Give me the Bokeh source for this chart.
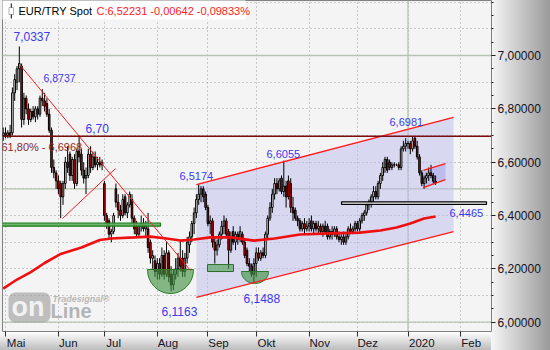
import numpy as np
from bokeh.plotting import figure
from bokeh.models import (Range1d, FixedTicker, CustomJSTickFormatter, Span, Label,
                          BoxAnnotation, ColumnDataSource)
from bokeh.embed import file_html
from bokeh.resources import INLINE

# ---------------- data (daily bars, index 0 = 1 May 2019) ----------------
bar_index = list(range(-1, 188))
opens = [
    6.70, 6.71, 6.70, 6.71, 6.71, 6.86, 6.90, 6.95, 6.96, 6.76,
    6.84, 6.80, 6.76, 6.79, 6.77, 6.80, 6.78, 6.84, 6.83, 6.82,
    6.78, 6.72, 6.58, 6.56, 6.53, 6.52, 6.47, 6.52, 6.60, 6.63,
    6.55, 6.61, 6.52, 6.64, 6.63, 6.57, 6.54, 6.55, 6.63, 6.58,
    6.62, 6.59, 6.60, 6.59, 6.52, 6.40, 6.38, 6.33, 6.34, 6.50,
    6.45, 6.42, 6.40, 6.47, 6.41, 6.44, 6.46, 6.39, 6.36, 6.33,
    6.36, 6.37, 6.35, 6.35, 6.30, 6.24, 6.23, 6.19, 6.22, 6.18,
    6.25, 6.18, 6.26, 6.18, 6.14, 6.18, 6.20, 6.24, 6.24, 6.19,
    6.24, 6.29, 6.32, 6.37, 6.41, 6.46, 6.48, 6.50, 6.48, 6.43,
    6.37, 6.38, 6.30, 6.27, 6.29, 6.33, 6.36, 6.38, 6.34, 6.27,
    6.34, 6.30, 6.33, 6.31, 6.33, 6.30, 6.27, 6.22, 6.21, 6.18,
    6.22, 6.26, 6.24, 6.26, 6.25, 6.33, 6.39, 6.43, 6.48, 6.52,
    6.50, 6.54, 6.49, 6.51, 6.53, 6.52, 6.43, 6.42, 6.39, 6.38,
    6.35, 6.37, 6.35, 6.36, 6.38, 6.35, 6.37, 6.35, 6.36, 6.34,
    6.36, 6.36, 6.32, 6.34, 6.33, 6.35, 6.32, 6.31, 6.32, 6.30,
    6.32, 6.35, 6.34, 6.35, 6.37, 6.35, 6.38, 6.40, 6.41, 6.44,
    6.45, 6.47, 6.49, 6.47, 6.52, 6.55, 6.58, 6.61, 6.60, 6.58,
    6.59, 6.59, 6.59, 6.58, 6.65, 6.66, 6.67, 6.67, 6.65, 6.69,
    6.66, 6.62, 6.56, 6.52, 6.54, 6.55, 6.56, 6.55, 6.5287,
]
highs = [
    6.73, 6.73, 6.72, 6.74, 6.88, 6.93, 6.96, 7.034, 6.97, 6.86,
    6.85, 6.82, 6.80, 6.81, 6.81, 6.81, 6.85, 6.874, 6.86, 6.84,
    6.80, 6.73, 6.61, 6.57, 6.55, 6.53, 6.53, 6.62, 6.66, 6.64,
    6.62, 6.63, 6.65, 6.70, 6.65, 6.60, 6.58, 6.65, 6.66, 6.64,
    6.64, 6.62, 6.62, 6.61, 6.53, 6.41, 6.39, 6.35, 6.41, 6.52,
    6.48, 6.44, 6.48, 6.48, 6.45, 6.49, 6.48, 6.40, 6.38, 6.37,
    6.40, 6.39, 6.38, 6.41, 6.31, 6.27, 6.25, 6.24, 6.24, 6.28,
    6.27, 6.30, 6.27, 6.21, 6.20, 6.24, 6.26, 6.31, 6.27, 6.26,
    6.32, 6.34, 6.38, 6.43, 6.48, 6.517, 6.51, 6.51, 6.49, 6.44,
    6.40, 6.39, 6.32, 6.31, 6.34, 6.38, 6.40, 6.39, 6.35, 6.34,
    6.36, 6.34, 6.34, 6.36, 6.34, 6.31, 6.28, 6.24, 6.22, 6.24,
    6.28, 6.28, 6.27, 6.28, 6.34, 6.40, 6.45, 6.50, 6.54, 6.54,
    6.54, 6.55, 6.606, 6.53, 6.55, 6.54, 6.47, 6.43, 6.40, 6.39,
    6.38, 6.39, 6.38, 6.39, 6.40, 6.38, 6.38, 6.38, 6.37, 6.37,
    6.38, 6.37, 6.35, 6.36, 6.36, 6.36, 6.34, 6.33, 6.34, 6.33,
    6.36, 6.37, 6.36, 6.38, 6.38, 6.39, 6.41, 6.42, 6.45, 6.46,
    6.48, 6.51, 6.51, 6.53, 6.56, 6.60, 6.62, 6.62, 6.61, 6.60,
    6.60, 6.595, 6.60, 6.66, 6.68, 6.69, 6.68, 6.68, 6.698, 6.695,
    6.68, 6.63, 6.57, 6.55, 6.56, 6.58, 6.59, 6.56, 6.55,
]
lows = [
    6.68, 6.69, 6.69, 6.69, 6.70, 6.83, 6.87, 6.90, 6.73, 6.74,
    6.78, 6.74, 6.75, 6.76, 6.75, 6.76, 6.77, 6.81, 6.79, 6.77,
    6.71, 6.56, 6.54, 6.50, 6.48, 6.39, 6.44, 6.50, 6.56, 6.53,
    6.53, 6.50, 6.51, 6.60, 6.55, 6.52, 6.48, 6.54, 6.56, 6.57,
    6.58, 6.57, 6.58, 6.57, 6.38, 6.35, 6.31, 6.30, 6.33, 6.43,
    6.39, 6.38, 6.39, 6.40, 6.39, 6.43, 6.37, 6.33, 6.32, 6.32,
    6.34, 6.34, 6.32, 6.26, 6.22, 6.20, 6.17, 6.16, 6.16, 6.17,
    6.16, 6.17, 6.15, 6.116, 6.12, 6.16, 6.17, 6.19, 6.17, 6.17,
    6.22, 6.26, 6.30, 6.33, 6.39, 6.44, 6.45, 6.45, 6.42, 6.36,
    6.33, 6.28, 6.22, 6.25, 6.28, 6.31, 6.33, 6.32, 6.20, 6.26,
    6.29, 6.27, 6.29, 6.30, 6.29, 6.24, 6.21, 6.19, 6.17, 6.149,
    6.17, 6.23, 6.23, 6.24, 6.24, 6.31, 6.38, 6.41, 6.46, 6.48,
    6.49, 6.48, 6.47, 6.43, 6.46, 6.41, 6.38, 6.38, 6.36, 6.34,
    6.34, 6.33, 6.34, 6.34, 6.34, 6.33, 6.34, 6.33, 6.33, 6.32,
    6.33, 6.31, 6.31, 6.31, 6.32, 6.31, 6.30, 6.29, 6.29, 6.29,
    6.31, 6.33, 6.33, 6.34, 6.34, 6.34, 6.37, 6.38, 6.40, 6.42,
    6.43, 6.45, 6.46, 6.46, 6.50, 6.53, 6.56, 6.56, 6.57, 6.57,
    6.58, 6.585, 6.57, 6.57, 6.64, 6.64, 6.65, 6.63, 6.64, 6.65,
    6.61, 6.55, 6.51, 6.50, 6.52, 6.53, 6.54, 6.52, 6.515,
]
closes = [
    6.71, 6.70, 6.71, 6.70, 6.86, 6.91, 6.95, 6.97, 6.76, 6.84,
    6.80, 6.76, 6.79, 6.77, 6.80, 6.78, 6.84, 6.83, 6.81, 6.78,
    6.72, 6.58, 6.56, 6.53, 6.50, 6.47, 6.52, 6.60, 6.58, 6.55,
    6.61, 6.52, 6.64, 6.62, 6.57, 6.54, 6.55, 6.63, 6.58, 6.62,
    6.59, 6.60, 6.59, 6.60, 6.40, 6.37, 6.33, 6.34, 6.40, 6.45,
    6.42, 6.40, 6.46, 6.41, 6.44, 6.48, 6.39, 6.35, 6.33, 6.36,
    6.37, 6.35, 6.36, 6.28, 6.24, 6.25, 6.19, 6.22, 6.18, 6.25,
    6.18, 6.26, 6.17, 6.14, 6.18, 6.20, 6.24, 6.21, 6.19, 6.24,
    6.30, 6.32, 6.37, 6.41, 6.46, 6.48, 6.50, 6.47, 6.43, 6.37,
    6.38, 6.30, 6.27, 6.29, 6.33, 6.36, 6.38, 6.33, 6.27, 6.32,
    6.30, 6.33, 6.31, 6.34, 6.30, 6.25, 6.22, 6.21, 6.18, 6.22,
    6.26, 6.24, 6.26, 6.25, 6.33, 6.39, 6.43, 6.48, 6.52, 6.50,
    6.53, 6.49, 6.51, 6.47, 6.47, 6.43, 6.41, 6.39, 6.38, 6.35,
    6.37, 6.35, 6.36, 6.37, 6.35, 6.37, 6.35, 6.36, 6.34, 6.36,
    6.34, 6.32, 6.34, 6.33, 6.35, 6.32, 6.31, 6.32, 6.30, 6.32,
    6.35, 6.34, 6.35, 6.37, 6.35, 6.38, 6.40, 6.41, 6.44, 6.45,
    6.47, 6.49, 6.47, 6.52, 6.55, 6.58, 6.61, 6.57, 6.58, 6.59,
    6.59, 6.59, 6.58, 6.65, 6.66, 6.67, 6.67, 6.65, 6.68, 6.66,
    6.62, 6.56, 6.52, 6.54, 6.55, 6.56, 6.55, 6.5287, 6.5223,
]

# moving average (bar index, value)
ma_index = [-1, 5, 11, 17, 24, 33, 41, 46, 56, 63, 70, 76, 82, 89, 98, 108,
            117, 128, 141, 154, 163, 170, 176, 182, 187]
ma_values = [6.126, 6.160, 6.188, 6.222, 6.256, 6.280, 6.308, 6.314, 6.318, 6.321,
             6.314, 6.306, 6.310, 6.318, 6.318, 6.306, 6.314, 6.329, 6.333, 6.336,
             6.344, 6.355, 6.370, 6.389, 6.396]

month_start = [0, 23, 43, 66, 88, 109, 132, 153, 175, 198]
month_labels = ["Mai", "Jun", "Jul", "Aug", "Sep", "Okt", "Nov", "Dez", "2020", "Feb"]
label_shift = [4.6, 4.3, 4.0, 4.6, 4.6, 4.5, 4.6, 4.5, 6.0, 4.5]

price_ticks = [6.0, 6.2, 6.4, 6.6, 6.8, 7.0]
minor_price_ticks = [5.95, 6.0, 6.05, 6.1, 6.15, 6.2, 6.25, 6.3, 6.35, 6.4, 6.45, 6.5,
                     6.55, 6.6, 6.65, 6.7, 6.75, 6.8, 6.85, 6.9, 6.95, 7.0, 7.05, 7.1,
                     7.15, 7.2]
dotted_levels = [6.0, 6.1, 6.2, 6.3, 6.4, 6.5, 6.6, 6.7, 6.8, 6.9, 7.0, 7.1, 7.2]
solid_levels = [6.0, 6.5, 7.0]

fib_level = 6.6968
support_level = 6.4465

# drawn studies (index, value)
trend_x, trend_y = [6.5, 80.4], [6.9625, 6.194]
tri_x, tri_y = [24.8, 47.8], [6.389, 6.576]
chan_x = [83.0, 194.8]
chan_top = [6.516, 6.768]
chan_bot = [6.093, 6.340]
small_x = [181.7, 191.3]
small_top = [6.569, 6.595]
small_bot = [6.505, 6.535]


# pixel helpers for placing annotations
def xd(px):
    return (px - 5.0) / 2.3


def yd(py):
    return 7.0 - (py - 55.0) / 266.7


FONT = "Liberation Sans"

p = figure(frame_width=489, frame_height=331,
           x_range=Range1d(xd(2), xd(491)), y_range=Range1d(yd(331), yd(0)),
           y_axis_location="right", toolbar_location=None, output_backend="svg",
           min_border_left=2, min_border_right=59, min_border_top=0, min_border_bottom=19,
           background_fill_color="#f4f4f4", border_fill_alpha=0,
           outline_line_color="#808080")
p.styles = {"background": "linear-gradient(to right, #f6f6f6, #9a9a9a) right top / 59px 100% no-repeat, "
                          "linear-gradient(to bottom, #ffffff, #b8b8b8) left bottom / 100% 19px no-repeat, "
                          "#f0f0f0"}

# grids
p.ygrid.ticker = FixedTicker(ticks=dotted_levels)
p.xgrid.ticker = FixedTicker(ticks=month_start)
for g in (p.xgrid, p.ygrid):
    g.grid_line_color = "#9c9c9c"
    g.grid_line_dash = "1 3"
    g.grid_line_width = 1
for lv in solid_levels:
    p.add_layout(Span(location=lv, dimension="width", line_color="#b4c4b0", line_width=1.3,
                      level="underlay"))
p.add_layout(Span(location=month_start[8], dimension="height", line_color="#b4c4b0",
                  line_width=1.3, level="underlay"))

# y axis
ya = p.yaxis[0]
ya.ticker = FixedTicker(ticks=price_ticks, minor_ticks=minor_price_ticks)
ya.formatter = CustomJSTickFormatter(code="return tick.toFixed(5).replace('.', ',');")
ya.major_label_text_font = FONT
ya.major_label_text_font_size = "12px"
ya.major_label_text_color = "#141428"
ya.major_tick_out = 4
ya.major_tick_in = 0
ya.minor_tick_out = 2
ya.minor_tick_in = 0
ya.major_tick_line_color = "#202020"
ya.minor_tick_line_color = "#202020"
ya.axis_line_color = None
ya.major_label_standoff = 2

# x axis
xa = p.xaxis[0]
label_pos = [m + s for m, s in zip(month_start, label_shift)]
xa.ticker = FixedTicker(ticks=label_pos, minor_ticks=month_start)
xa.formatter = CustomJSTickFormatter(args=dict(pos=label_pos, labels=month_labels), code="""
let best = 0;
for (let k = 0; k < pos.length; k++) {
  if (Math.abs(pos[k] - tick) < Math.abs(pos[best] - tick)) best = k;
}
return labels[best];
""")
xa.major_tick_line_color = None
xa.major_tick_out = 0
xa.major_tick_in = 0
xa.minor_tick_line_color = "#303030"
xa.minor_tick_out = 5
xa.minor_tick_in = 0
xa.axis_line_color = None
xa.major_label_standoff = 0
xa.major_label_text_font = FONT
xa.major_label_text_font_size = "11.5px"
xa.major_label_text_color = "#141428"

# channel fill (lavender)
p.patch(chan_x + chan_x[::-1], chan_top + chan_bot[::-1], fill_color="#bcbcee",
        fill_alpha=0.5, line_color=None)
p.patch(small_x + small_x[::-1], small_top + small_bot[::-1], fill_color="#a8a8ea",
        fill_alpha=0.55, line_color=None)

# candles
o = np.array(opens)
c = np.array(closes)
src = ColumnDataSource(dict(
    x=bar_index, h=highs, l=lows,
    top=np.maximum(o, c), bottom=np.minimum(o, c),
    color=["#ffffff" if cc >= oo else "#e80000" for oo, cc in zip(opens, closes)]))
p.segment(x0="x", y0="h", x1="x", y1="l", source=src, line_color="black", line_width=1)
p.vbar(x="x", width=0.68, top="top", bottom="bottom", source=src, fill_color="color",
       line_color="black", line_width=1)

# horizontal green support bar
p.quad(left=[xd(0)], right=[xd(160)], top=[6.372], bottom=[6.360], fill_color="#5cb05c",
       fill_alpha=0.9, line_color="#1e7a1e", line_width=1.2)
# green rectangle (September lows)
p.quad(left=[xd(207)], right=[xd(233)], top=[6.216], bottom=[6.190], fill_color="#4f9f4f",
       fill_alpha=0.6, line_color="#2a6e2a", line_width=1)


# green bowls (half ellipses)
def bowl(cx, top, rx, ry):
    t = np.linspace(0, np.pi, 40)
    return list(cx + rx * np.cos(t)), list(top - ry * np.sin(t))


bx, by = bowl(xd(170), yd(269), 10.0, 0.09)
p.patch(bx, by, fill_color="#3d8f3d", fill_alpha=0.62, line_color="#2a7a2a", line_width=1)
bx2, by2 = bowl(xd(254.5), yd(271), 5.9, 0.045)
p.patch(bx2, by2, fill_color="#3d8f3d", fill_alpha=0.62, line_color="#2a7a2a", line_width=1)

# moving average
p.line(ma_index, ma_values, line_color="#ee1010", line_width=2.6)

# drawn lines
p.line(trend_x, trend_y, line_color="#ff1a1a", line_width=1)
p.line(tri_x, tri_y, line_color="#ff1a1a", line_width=1)
p.line(chan_x, chan_top, line_color="#ff1a1a", line_width=1.3)
p.line(chan_x, chan_bot, line_color="#ff1a1a", line_width=1.3)
p.line(small_x, small_top, line_color="#ff1a1a", line_width=1.3)
p.line(small_x, small_bot, line_color="#ff1a1a", line_width=1.3)

# support box
p.quad(left=[xd(341)], right=[xd(486)], top=[support_level + 0.0045],
       bottom=[support_level - 0.0045], fill_color="#ffffff", fill_alpha=0.9,
       line_color="black", line_width=1.2)

# fib line
p.add_layout(Span(location=fib_level, dimension="width", line_color="#7a0c0c", line_width=1.5))


def lab(text, px, py, size, color, style="normal", align="left", baseline="middle"):
    p.add_layout(Label(x=xd(px), y=yd(py), text=text, text_font=FONT, text_font_size=size,
                       text_color=color, text_font_style=style, text_align=align,
                       text_baseline=baseline))


BLUE = "#3a3af0"
lab("7,0337", 13, 36, "12px", BLUE)
lab("6,8737", 43, 77, "10.5px", BLUE)
lab("6,70", 85, 128, "12px", BLUE)
lab("61,80% - 6,6968", 1, 146, "11px", "#8c2a2a")
lab("6,5174", 179, 175, "11px", BLUE)
lab("6,6055", 266, 153, "11px", BLUE)
lab("6,6981", 389, 121, "11px", BLUE)
lab("6,4465", 449, 212, "11px", BLUE)
lab("6,1163", 161, 311, "12px", BLUE)
lab("6,1488", 243, 298, "12px", BLUE)

# logo watermark
p.add_layout(BoxAnnotation(left=xd(8), right=xd(50), top=yd(292), bottom=yd(322),
                           fill_color="#9a9a9a", fill_alpha=0.6, line_color=None,
                           border_radius=7))
lab("on", 11, 306, "27px", "#f2f2f2", style="bold")
lab("Line", 50, 310, "20px", "#b4b4b4", style="bold")
lab("Tradesignal\u00ae", 52, 298, "9px", "#b8b8b8", style="bold italic")

# title box
p.add_layout(BoxAnnotation(left=xd(-2), right=xd(245), top=yd(-4), bottom=yd(19),
                           fill_color="#ffffff", fill_alpha=1, line_color=None))
p.add_layout(BoxAnnotation(left=xd(10.3), right=xd(11.3), top=yd(3), bottom=yd(18),
                           fill_color="black", fill_alpha=1, line_color=None))
p.add_layout(BoxAnnotation(left=xd(8.5), right=xd(13), top=yd(7), bottom=yd(14),
                           fill_color="#ffffff", fill_alpha=1, line_color="black", line_width=1))
lab("EUR/TRY Spot", 18, 10.5, "11px", "#000000")
lab("C:6,52231 -0,00642 -0,09833%", 96, 10.5, "11px", "#ff2020")
lab("TRY", 496, 11, "12px", "#101010")

open("out.html", "w").write(file_html(p, INLINE))
